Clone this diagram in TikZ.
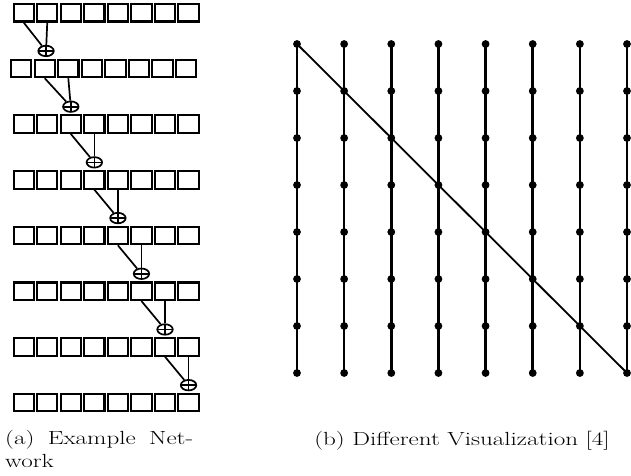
\documentclass[tikz,border=0pt]{standalone}
\usepackage{fontspec}
\usepackage{graphicx}
\usetikzlibrary{shapes.geometric}
\tikzset{
  bitbox/.style={draw, line width=2.1pt, minimum width=20.3pt, minimum height=17.5pt, inner sep=0pt},
  xorgate/.style={draw, ellipse, line width=1.7pt, minimum width=15.5pt, minimum height=10.5pt, inner sep=0pt,
    path picture={\draw[line width=1.7pt] (path picture bounding box.north) -- (path picture bounding box.south)
      (path picture bounding box.west) -- (path picture bounding box.east);}},
  wire/.style={line width=1.7pt},
  vertex/.style={circle, fill, inner sep=0pt, minimum size=7.8pt},
  captext/.style={inner sep=0pt, font=\fontsize{19}{23}\selectfont}
}
\begin{document}
\begin{tikzpicture}[x=1pt, y=-1pt]
\useasboundingbox (0,0) rectangle (631,475);
% (a) example network
\foreach \r in {1,...,8}
  \foreach \c in {1,...,8}
    \node[bitbox] (b-\r-\c) at ({23.7+23.55*(\c-1)-2.5*(\r==2)}, {12.75+55.7*(\r-1)}) {};
\foreach \r [evaluate=\r as \n using int(\r+1)] in {1,...,7} {
  \node[xorgate] (p-\r) at ({23.7+23.55*\r-1.2*(\r==1)}, {12.75+55.7*\r-17.5}) {};
  \draw[wire] (b-\r-\r.south) -- (p-\r);
  \draw[wire] (b-\r-\n.south) -- (p-\r);
}
% (b) different visualization
\foreach \c in {1,...,8}
  \foreach \r in {1,...,8}
    \node[vertex] (d-\c-\r) at ({297+330/7*(\c-1)}, {44+47*(\r-1)}) {};
\foreach \c in {1,...,8}
  \draw[line width=2.5pt] (d-\c-1.center) -- (d-\c-8.center);
\draw[line width=1.8pt] (d-1-1.center) -- (d-8-8.center);
% captions
\node[captext, anchor=base west] (capa) at (5,444) {\scalebox{1.32}[1]{\makebox[142.4pt][s]{(a) Example Net-}}};
\node[captext, anchor=base west] (capa2) at (5,467) {\scalebox{1.32}[1]{work}};
\node[captext, anchor=base] (capb) at (462,445) {\scalebox{1.32}[1]{(b) Different Visualization [4]}};
\end{tikzpicture}
\end{document}
